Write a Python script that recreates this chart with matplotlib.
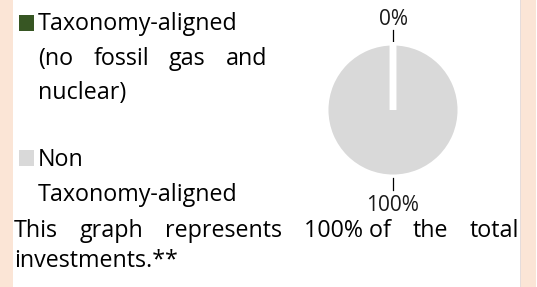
import matplotlib
matplotlib.use("Agg")
import matplotlib.pyplot as plt
from matplotlib.patches import Rectangle
import numpy as np

# données
labels = ["Taxonomy-aligned (no fossil gas and nuclear)", "Non Taxonomy-aligned"]
values = [0, 100]
pct_labels = ["0%", "100%"]
colors = ["#375623", "#D9D9D9"]
note_share = "100%"

W, H = 537, 287
plt.rcParams['font.family'] = ['Open Sans', 'DejaVu Sans']
fig = plt.figure(figsize=(W / 100, H / 100), dpi=100)
fig.patch.set_facecolor("white")
renderer = fig.canvas.get_renderer()


def fx(px):
    return px / W


def fy(py):
    return 1 - py / H


# taille de police calée sur la largeur de "Taxonomy-aligned" (~199 px)
probe = fig.text(0, 0, "Taxonomy-aligned", fontsize=10)
fs = 10 * 199 / probe.get_window_extent(renderer).width
probe.remove()

# bandes couleur pêche à gauche et à droite
fig.add_artist(Rectangle((0, 0), fx(13), 1, transform=fig.transFigure,
                         facecolor="#FBE5D6", edgecolor="none"))
fig.add_artist(Rectangle((fx(521), 0), fx(15), 1, transform=fig.transFigure,
                         facecolor="#FBE5D6", edgecolor="none"))
fig.add_artist(Rectangle((fx(520), 0), fx(1), 1, transform=fig.transFigure,
                         facecolor="#E4DCDC", edgecolor="none"))

# camembert
cx, cy, half = 393, 110, 100
ax = fig.add_axes([fx(cx - half), fy(cy + half), 2 * half / W, 2 * half / H])
lim = half / 68
wedges, _ = ax.pie(values, colors=colors, startangle=90, counterclock=False,
                   radius=1, wedgeprops=dict(edgecolor="white", linewidth=5))
wedges[0].set_zorder(5)
wedges[0].set_capstyle("butt")
for w, lab in zip(wedges, pct_labels):
    mid = np.deg2rad((w.theta1 + w.theta2) / 2)
    c, s = np.cos(mid), np.sin(mid)
    ax.plot([1.0 * c, 1.18 * c], [1.0 * s, 1.18 * s], color="black", lw=0.9)
    ax.text(1.37 * c, 1.37 * s, lab, ha="center", va="center_baseline",
            fontsize=fs * 0.9, color="#1a1a1a")
ax.set_xlim(-lim, lim)
ax.set_ylim(-lim, lim)
ax.set_aspect("equal")
ax.axis("off")


def justify(tokens, x0, x1, baseline):
    arts = [fig.text(0, fy(baseline), t, fontsize=fs, va="baseline", ha="left",
                     color="black") for t in tokens]
    widths = [a.get_window_extent(renderer).width for a in arts]
    gap = (x1 - x0 - sum(widths)) / (len(tokens) - 1)
    x = x0
    for a, wd in zip(arts, widths):
        a.set_x(fx(x))
        x += wd + gap


def line(text, x0, baseline):
    fig.text(fx(x0), fy(baseline), text, fontsize=fs, va="baseline", ha="left",
             color="black")


# légende
fig.add_artist(Rectangle((fx(19), fy(31)), fx(15), 16 / H, transform=fig.transFigure,
                         facecolor=colors[0], edgecolor="none"))
line("Taxonomy-aligned", 38, 30)
justify(["(no", "fossil", "gas", "and"], 38, 267, 65)
line("nuclear)", 38, 99)

fig.add_artist(Rectangle((fx(19), fy(166)), fx(15), 16 / H, transform=fig.transFigure,
                         facecolor=colors[1], edgecolor="none"))
line("Non", 38, 166)
line("Taxonomy-aligned", 38, 201)

# note
justify(["This", "graph", "represents", note_share + " of", "the", "total"], 14, 519, 237)
line("investments.**", 14, 267)

fig.savefig("out.png", dpi=100)
